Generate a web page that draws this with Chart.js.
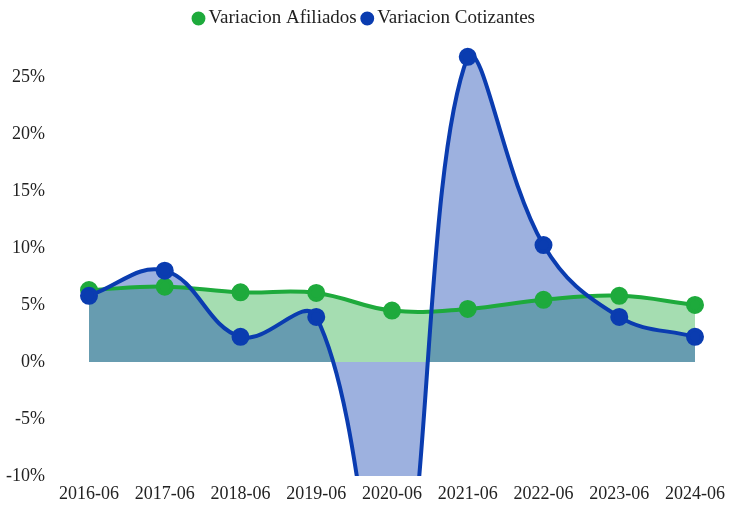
<!DOCTYPE html>
<html>
<head>
<meta charset="utf-8">
<script src="https://cdn.jsdelivr.net/npm/chart.js@4"></script>
<style>
  html, body { margin: 0; padding: 0; background: #fff; overflow: hidden; }
  #wrap { position: relative; width: 729px; height: 508px; }
  #chart { display: block; }
</style>
</head>
<body>
<div id="wrap"><canvas id="chart"></canvas></div>
<script>
const labels = ['2016-06', '2017-06', '2018-06', '2019-06', '2020-06', '2021-06', '2022-06', '2023-06', '2024-06'];
const afiliados = [6.3, 6.6, 6.1, 6.05, 4.5, 4.65, 5.45, 5.8, 5.0];
const cotizantes = [5.8, 8.0, 2.2, 3.95, -24, 26.75, 10.25, 3.95, 2.2];

Chart.defaults.font.family = '"Liberation Serif", serif';
Chart.defaults.color = '#222';

// nudge the legend so it sits centred like the original
const legendShift = {
    id: 'legendShift',
    afterLayout(chart) {
        chart.legend.left += 16;
        chart.legend.right += 16;
    }
};

const ctx = document.getElementById('chart').getContext('2d');
new Chart(ctx, {
    type: 'line',
    data: {
        labels,
        datasets: [{
            label: 'Variacion Afiliados',
            data: afiliados,
            borderColor: 'rgb(30, 170, 60)',
            backgroundColor: 'rgba(30, 170, 60, 0.4)',
            pointBackgroundColor: 'rgb(30, 170, 60)',
            pointBorderColor: 'rgb(30, 170, 60)',
            borderWidth: 4,
            pointRadius: 7,
            tension: 0.4,
            fill: 'origin',
            order: 1
        }, {
            label: 'Variacion Cotizantes',
            data: cotizantes,
            borderColor: 'rgb(10, 60, 176)',
            backgroundColor: 'rgba(10, 60, 176, 0.4)',
            pointBackgroundColor: 'rgb(10, 60, 176)',
            pointBorderColor: 'rgb(10, 60, 176)',
            borderWidth: 4,
            pointRadius: 7,
            tension: 0.4,
            fill: 'origin',
            order: 0
        }]
    },
    options: {
        responsive: true,
        maintainAspectRatio: false,
        animation: false,
        layout: { padding: { left: 6, right: 34, top: -1, bottom: 0 } },
        plugins: {
            filler: { drawTime: 'beforeDatasetsDraw' },
            legend: {
                labels: {
                    usePointStyle: true,
                    pointStyle: 'circle',
                    boxWidth: 1,
                    boxHeight: 7,
                    padding: 10,
                    font: { size: 19 },
                    sort: (a, b) => a.datasetIndex - b.datasetIndex
                }
            },
            tooltip: { enabled: false }
        },
        scales: {
            x: {
                grid: { display: false, tickLength: 7 },
                border: { display: false },
                ticks: { font: { size: 18 }, maxRotation: 0, padding: 0 },
                afterFit: s => { s.height = 32; }
            },
            y: {
                min: -10,
                max: 28.4,
                grid: { display: false, tickLength: 44 },
                border: { display: false },
                ticks: {
                    stepSize: 5,
                    font: { size: 18 },
                    padding: 0,
                    callback: v => (v % 5 === 0 ? v + '%' : null)
                },
                afterFit: s => { s.width = 83; }
            }
        }
    },
    plugins: [legendShift]
});
</script>
</body>
</html>
